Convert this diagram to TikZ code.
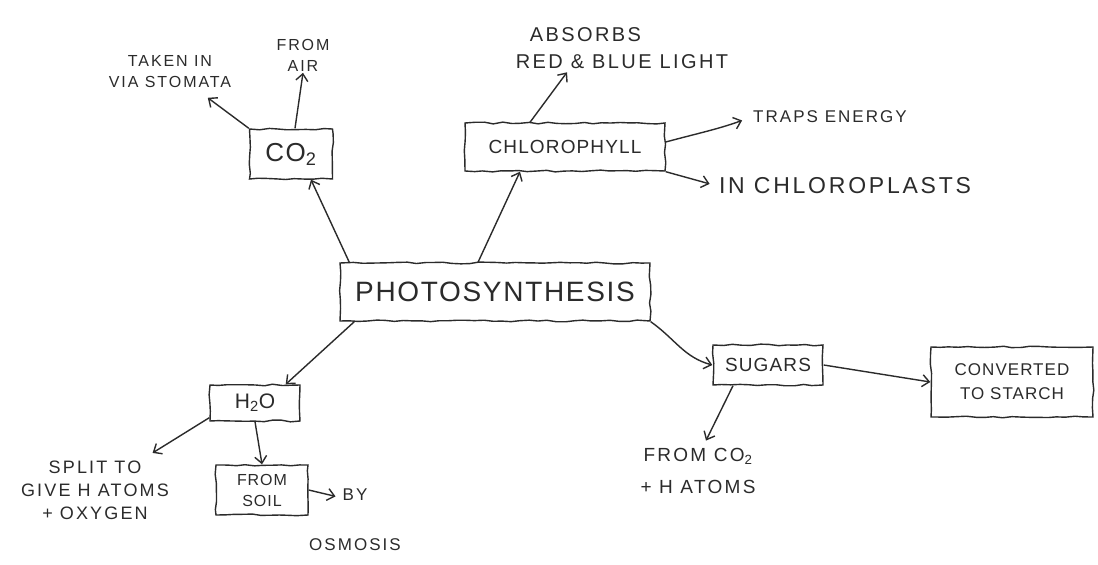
\documentclass[tikz,border=0pt]{standalone}
\usepackage{fontspec}
\setmainfont[LetterSpace=6]{Liberation Sans}
\newfontfamily\handfont[LetterSpace=12]{Liberation Sans}
\usetikzlibrary{arrows.meta,decorations.pathmorphing}
\definecolor{pencil}{HTML}{2B2B2B}

\begin{document}
\begin{tikzpicture}[
			x=1pt, y=-1pt,
			line width=1.4pt, color=pencil,
			box/.style={draw, decorate, decoration={random steps,segment length=9pt,amplitude=0.9pt}, inner sep=0pt, align=center, font=\fontsize{19}{23}\selectfont},
			note/.style={align=center, inner sep=1pt, font=\handfont\fontsize{16}{21}\selectfont},
			arr/.style={-{Straight Barb[length=7pt,width=12pt]}},
			]
			\pgfmathsetseed{7}
			\useasboundingbox[fill=white] (0,0) rectangle (1098,565);
			% boxes
			\node [box,minimum width=310,minimum height=58,font=\fontsize{28}{30}\selectfont] (photo) at (495,292) {PHOTOSYNTHESIS};
			\node [box,minimum width=83,minimum height=50,font=\fontsize{26}{28}\selectfont] (co2) at (291,154) {CO\textsubscript{2}};
			\node [box,minimum width=200,minimum height=48] (chlor) at (565,147) {CHLOROPHYLL};
			\node [box,minimum width=90,minimum height=36,font=\fontsize{21}{23}\selectfont] (h2o) at (255,403) {H\textsubscript{2}O};
			\node [box,minimum width=92,minimum height=50,font=\fontsize{16}{21}\selectfont] (soil) at (262,490) {FROM\\SOIL};
			\node [box,minimum width=110,minimum height=40] (sugars) at (768,365) {SUGARS};
			\node [box,minimum width=162,minimum height=70,font=\fontsize{17}{24}\selectfont] (starch) at (1012,382) {CONVERTED\\TO STARCH};
			% notes
			\node [note] (stomata) at (170,72) {TAKEN IN\\VIA STOMATA};
			\node [note] (air) at (303,55) {FROM\\AIR};
			\node [note,align=left,font=\handfont\fontsize{20}{27}\selectfont] (absorbs) at (622,48) {\hspace*{14pt}ABSORBS\\RED \& BLUE LIGHT};
			\node [note,font=\handfont\fontsize{17}{21}\selectfont] (traps) at (830,117) {TRAPS ENERGY};
			\node [note,font=\handfont\fontsize{23}{25}\selectfont] (chloroplasts) at (845,186) {IN CHLOROPLASTS};
			\node [note,font=\handfont\fontsize{18}{23}\selectfont] (split) at (95,490) {SPLIT TO\\GIVE H ATOMS\\+ OXYGEN};
			\node [note,font=\handfont\fontsize{17}{50}\selectfont] (osmosis) at (355,520) {BY\\OSMOSIS};
			\node [note,font=\handfont\fontsize{19}{32}\selectfont] (fromco2) at (698,471) {FROM CO\textsubscript{2}\\+ H ATOMS};
			% connectors
			\draw[arr] ([xshift=10pt]photo.north west) -- ([xshift=20pt]co2.south);
			\draw[arr] ([xshift=-17pt]photo.north) -- ([xshift=-45pt]chlor.south);
			\draw[arr] ([xshift=15pt]photo.south west) -- ([xshift=-15pt]h2o.north east);
			\draw[arr] (photo.south east) to[out=-35,in=165] (sugars.west);
			\draw[arr] (sugars.east) -- (starch.west);
			\draw[arr] ([xshift=-35pt]sugars.south) -- ([xshift=8pt,yshift=6pt]fromco2.north);
			\draw[arr] (co2.north west) -- ([xshift=-25pt,yshift=-8pt]stomata.south east);
			\draw[arr] ([xshift=4pt]co2.north) -- (air.south);
			\draw[arr] ([xshift=-35pt]chlor.north) -- ([xshift=-55pt,yshift=-2pt]absorbs.south);
			\draw[arr,shorten >=10pt] ([yshift=5pt]chlor.east) to[out=15,in=200] (traps.west);
			\draw[arr,shorten >=8pt] (chlor.south east) -- (chloroplasts.west);
			\draw[arr] ([yshift=4pt]h2o.south west) -- ([xshift=-18pt,yshift=6pt]split.north east);
			\draw[arr] (h2o.south) -- (soil.north);
			\draw[arr] (soil.east) -- ([xshift=28pt,yshift=-9pt]osmosis.north west);
		\end{tikzpicture}
\end{document}
